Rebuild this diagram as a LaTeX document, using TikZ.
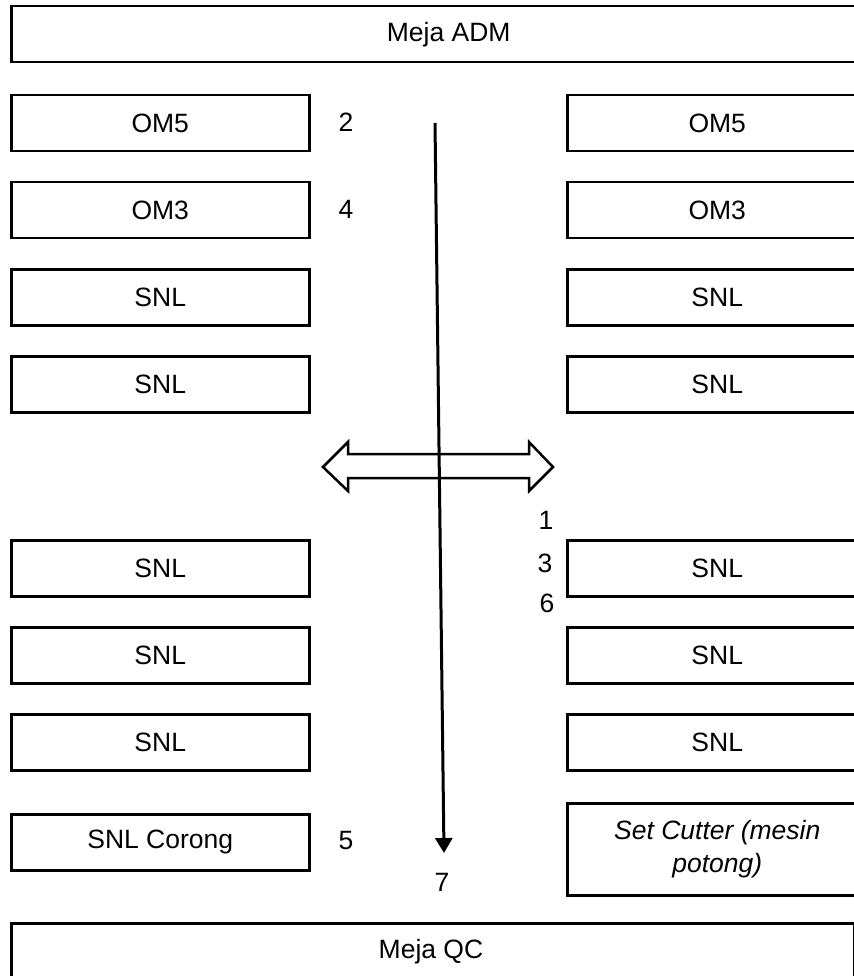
\documentclass[tikz,border=0pt]{standalone}
\usepackage{fontspec}
\setmainfont{Liberation Sans}
\usetikzlibrary{arrows.meta}
\begin{document}
\begin{tikzpicture}[x=1pt,y=-1pt,
  box/.style={draw, line width=2.5pt, anchor=north west, inner sep=0pt, align=center, font=\fontsize{26.5}{33}\selectfont},
  lbox/.style={box, minimum width=298pt, minimum height=56pt},
  rbox/.style={box, minimum width=300pt, minimum height=56pt},
  num/.style={inner sep=0pt, font=\fontsize{26.5}{33}\selectfont},
  flow/.style={line width=3pt, -{Triangle[length=15pt,width=17pt]}},
  dbl/.style={line width=2.5pt, line join=miter}]
\useasboundingbox (0,0) rectangle (853,976);
% tables
\node[box, minimum width=875pt, minimum height=56pt] (adm) at (10,5) {Meja ADM};
\node[box, minimum width=843pt, minimum height=70pt, anchor=north west] (qc) at (10,922) {};
\node[num] (qct) at (431,952) {Meja QC};
% left column
\node[lbox] (l1) at (10,94) {OM5};
\node[lbox] (l2) at (10,181) {OM3};
\node[lbox] (l3) at (10,268) {SNL};
\node[lbox] (l4) at (10,355) {SNL};
\node[lbox] (l5) at (10,539) {SNL};
\node[lbox] (l6) at (10,626) {SNL};
\node[lbox] (l7) at (10,713) {SNL};
\node[lbox] (l8) at (10,813) {SNL Corong};
% right column
\node[rbox] (r1) at (566,94) {OM5};
\node[rbox] (r2) at (566,181) {OM3};
\node[rbox] (r3) at (566,268) {SNL};
\node[rbox] (r4) at (566,355) {SNL};
\node[rbox] (r5) at (566,539) {SNL};
\node[rbox] (r6) at (566,626) {SNL};
\node[rbox] (r7) at (566,713) {SNL};
\node[box, minimum width=300pt, minimum height=92pt] (r8) at (566,802) {\itshape Set Cutter (mesin\\\itshape potong)};
% numbers
\node[num] (n2) at (346,122) {2};
\node[num] (n4) at (346,209) {4};
\node[num] (n5) at (346,841) {5};
\node[num] (n1) at (546,520) {1};
\node[num] (n3) at (545,563) {3};
\node[num] (n6) at (547,603) {6};
\node[num] (n7) at (442,882) {7};
% double arrow
\draw[dbl] (323,467) -- (348,442) -- (348,454) -- (529,454) -- (529,442) -- (553,467)
  -- (529,491) -- (529,478) -- (348,478) -- (348,491) -- cycle;
% flow arrow
\coordinate (vs) at (435,123);
\coordinate (ve) at (444,853);
\draw[flow] (vs) -- (ve);
\end{tikzpicture}
\end{document}
